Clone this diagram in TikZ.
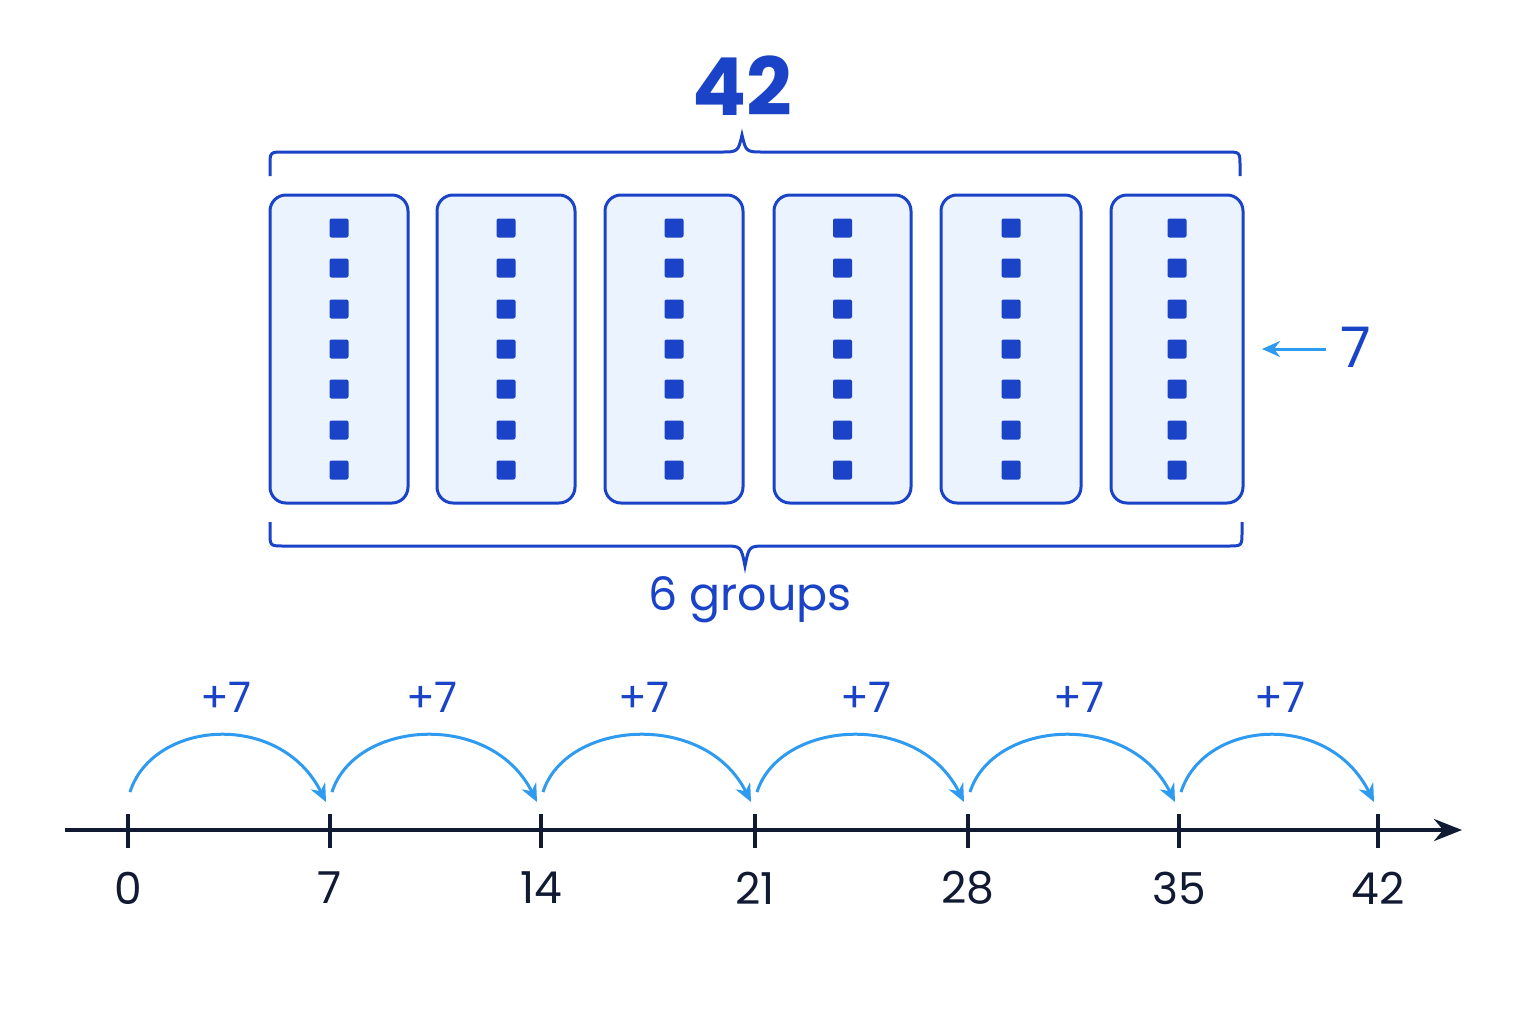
\documentclass[tikz,border=0pt]{standalone}
\usepackage{fontspec}
\setmainfont{Poppins}
\usetikzlibrary{arrows.meta}
\definecolor{dblue}{HTML}{1A43C8}
\definecolor{lblue}{HTML}{EAF3FE}
\definecolor{sblue}{HTML}{2E9BF0}
\definecolor{navy}{HTML}{111A33}
\begin{document}
\begin{tikzpicture}[x=0.5pt,y=-0.5pt,
  grp/.style={draw=dblue,line width=1.5pt,fill=lblue,rounded corners=8pt},
  dot/.style={fill=dblue,draw=none,minimum size=9.5pt,inner sep=0pt,rounded corners=1pt},
  brace/.style={draw=dblue,line width=1.5pt},
  jump/.style={draw=sblue,line width=1.5pt,-{Stealth[length=9pt,width=8pt]}},
  lab/.style={font=\fontsize{22}{24}\selectfont,text=navy},
  plus/.style={font=\fontsize{21}{24}\selectfont,text=dblue}]
\useasboundingbox[fill=white] (0,0) rectangle (1536,1024);
\foreach \a/\b [count=\i] in {270/408,437/575,605/743,774/911,941/1081,1111/1243}{
  \node[grp,minimum width={(\b-\a)*0.5pt},minimum height=154pt] (g\i) at ({(\a+\b)/2},349) {};
  \foreach \y [count=\j] in {228,268,309,349,389,430,470}
    \node[dot] (d\i-\j) at ({(\a+\b)/2},\y) {};
}
% top brace
\draw[brace] (270,176) -- (270,166) .. controls (270,152) .. (284,152) -- (720,152) .. controls (738,152) .. (742,135)
  .. controls (746,152) .. (764,152) -- (1226,152) .. controls (1240,152) .. (1240,166) -- (1240,176);
\node[font=\bfseries\fontsize{40}{42}\selectfont,text=dblue] (t42) at (742,86) {42};
% bottom brace
\draw[brace] (270,522) -- (270,532) .. controls (270,546) .. (284,546) -- (724,546) .. controls (741,546) .. (745,566)
  .. controls (749,546) .. (766,546) -- (1228,546) .. controls (1242,546) .. (1242,532) -- (1242,522);
\node[font=\fontsize{23}{26}\selectfont,text=dblue] (t6) at (750,600) {6 groups};
% 7 arrow
\coordinate (as) at (1326,349);
\coordinate (ae) at (1262,349);
\draw[jump] (as) -- (ae);
\node[font=\fontsize{28}{30}\selectfont,text=dblue] (t7) at (1356,347) {7};
% number line
\coordinate (ls) at (65,830);
\coordinate (le) at (1462,830);
\draw[navy,line width=2pt,-{Stealth[length=14pt,width=11pt]}] (ls) -- (le);
\foreach \x/\v [count=\i] in {128/0,330/7,541/14,755/21,968/28,1179/35,1378/42}{
  \draw[navy,line width=2pt] (\x,814) -- (\x,848);
  \coordinate (k\i) at (\x,830);
  \node[lab] (n\i) at (\x,888) {\v};
}
\foreach \a/\b/\m [count=\i] in {128/330/226,330/541/432,541/755/644,755/968/866,968/1179/1079,1179/1378/1280}{
  \draw[jump] ({\a+2},792) .. controls ({\a+25},720) and ({\b-50},710) .. ({\b-4},802);
  \node[plus] (p\i) at (\m,697) {+7};
}
\end{tikzpicture}
\end{document}
